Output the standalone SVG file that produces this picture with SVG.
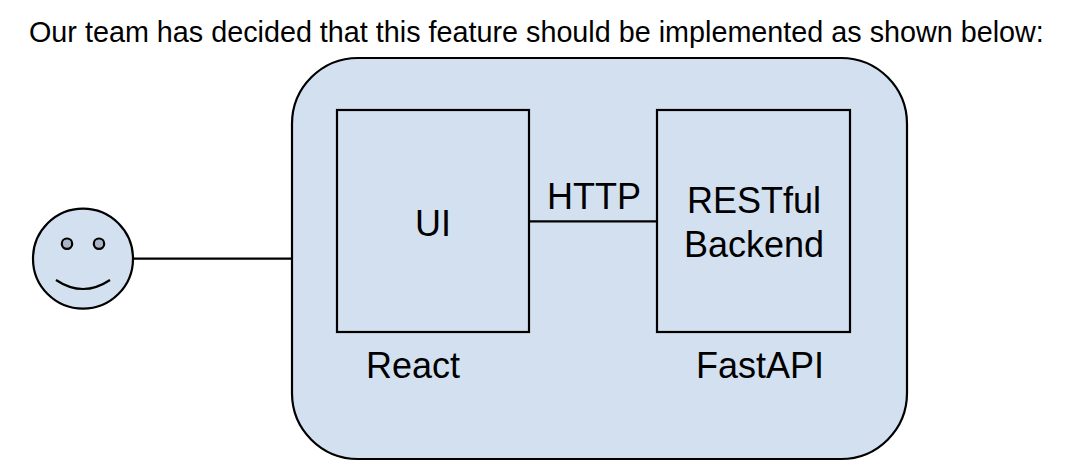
<svg xmlns="http://www.w3.org/2000/svg" width="1090" height="476" viewBox="0 0 1090 476">
<style>
text{font-family:"Liberation Sans",Arial,sans-serif;fill:#000}
.l{font-size:36px;text-anchor:middle}
.s{fill:#d3e0f0;stroke:#000;stroke-width:2.2}
.e{fill:#a9b5c7;stroke:#000;stroke-width:2.2}
.c{fill:none;stroke:#000;stroke-width:2.2}
</style>
<rect width="1090" height="476" fill="#fff"/>
<text id="title" x="29" y="42" font-size="28.750">Our team has decided that this feature should be implemented as shown below:</text>
<g id="container"><rect class="s" x="292" y="58" width="615" height="401" rx="66" ry="66"/></g>
<g id="connectors">
<line class="c" x1="133" y1="258.700" x2="292" y2="258.700"/>
<line class="c" x1="529" y1="221.300" x2="657" y2="221.300"/>
</g>
<g id="user"><circle class="s" cx="83" cy="258.700" r="50"/>
<circle class="e" cx="67" cy="243.700" r="5.200"/><circle class="e" cx="99" cy="243.700" r="5.200"/>
<path class="c" d="M56 280Q83 298 110 280"/></g>
<g id="ui"><rect class="s" x="337" y="110" width="192" height="222"/><text class="l" x="433" y="236">UI</text></g>
<g id="backend"><rect class="s" x="657" y="110" width="193" height="222"/><text class="l" x="754" y="213">RESTful</text><text class="l" x="754" y="257">Backend</text></g>
<text id="http" class="l" x="594" y="209">HTTP</text>
<text id="react" class="l" x="413" y="378">React</text>
<text id="fastapi" class="l" x="760" y="378">FastAPI</text>
</svg>
